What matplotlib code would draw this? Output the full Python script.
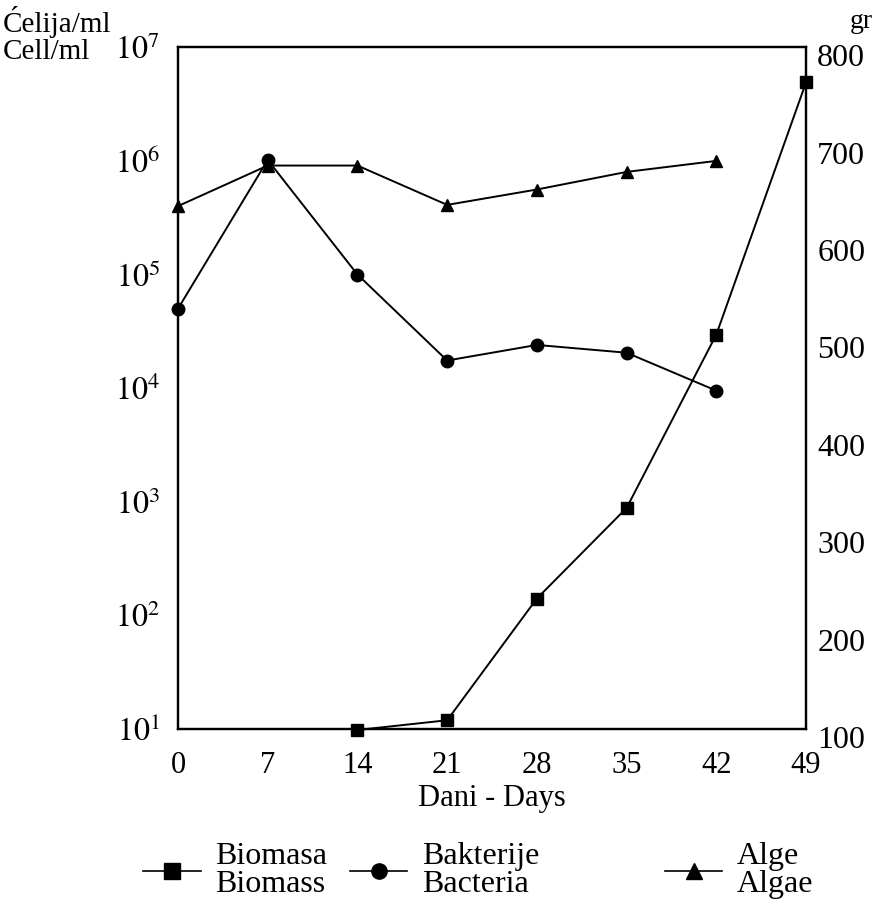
import numpy as np
import matplotlib
matplotlib.use('Agg')
import matplotlib.pyplot as plt
import matplotlib.transforms as mtransforms
from matplotlib.lines import Line2D

plt.rcParams['font.family'] = 'Liberation Serif'
plt.rcParams['mathtext.fontset'] = 'stix'

# data
days = [0, 7, 14, 21, 28, 35, 42, 49]
bact_days = [0, 7, 14, 21, 28, 35, 42]
bacteria = [5.0e4, 1.02e6, 1.0e5, 1.75e4, 2.4e4, 2.05e4, 9.5e3]
alg_days = [0, 7, 14, 21, 28, 35, 42]
algae = [4.0e5, 9.1e5, 9.1e5, 4.1e5, 5.6e5, 8.0e5, 1.0e6]
bio_days = [14, 21, 28, 35, 42, 49]
biomass = [99, 109, 234, 327, 505, 764]

log_ticks = [1e1, 1e2, 1e3, 1e4, 1e5, 1e6, 1e7]
log_labels = ['$10^{%d}$' % i for i in range(1, 8)]
gr_ticks = [100, 200, 300, 400, 500, 600, 700, 800]

fig = plt.figure(figsize=(8.79, 9.09), dpi=100)
ax = fig.add_axes([0.2025, 0.198, 0.7145, 0.750])
ax2 = ax.twinx()

ax.plot(bact_days, bacteria, color='black', lw=1.4, marker='o', ms=9, clip_on=False)
ax.plot(alg_days, algae, color='black', lw=1.4, marker='^', ms=8, clip_on=False)
ax2.plot(bio_days, biomass, color='black', lw=1.4, marker='s', ms=9, clip_on=False)

ax.set_yscale('log')
ax.set_ylim(1e1, 1e7)
ax.set_yticks(log_ticks)
ax.set_yticklabels(log_labels, fontsize=23)
ax.minorticks_off()
ax.set_xlim(0, 49)
ax.set_xticks(days)
ax.set_xticklabels([str(d) for d in days], fontsize=22)
ax.set_xlabel('Dani - Days', fontsize=22, labelpad=3)

ax2.set_ylim(100, 800)
ax2.set_yticks(gr_ticks)
ax2.set_yticklabels([str(g) for g in gr_ticks], fontsize=23)

ax.tick_params(axis='x', length=0, pad=16)
ax.tick_params(axis='y', length=0, pad=13)
ax2.tick_params(axis='y', length=0, pad=8)
# right-hand numbers sit a little below their levels in the original
shift = mtransforms.ScaledTranslation(0, -0.08, fig.dpi_scale_trans)
for lab in ax2.get_yticklabels():
    lab.set_transform(lab.get_transform() + shift)

for a in (ax, ax2):
    for s in a.spines.values():
        s.set_linewidth(1.6)

fig.text(0.003, 0.976, 'Ćelija/ml', fontsize=21, va='center')
fig.text(0.003, 0.943, 'Cell/ml', fontsize=21, va='center')
fig.text(0.993, 0.976, 'gr', fontsize=20, ha='right', va='center')

entries = [
    ('s', 11, 'Biomasa\nBiomass', 0.1627),
    ('o', 11, 'Bakterije\nBacteria', 0.398),
    ('^', 11, 'Alge\nAlgae', 0.7565),
]
for mk, size, text, x0 in entries:
    h = Line2D([], [], color='black', lw=1.2, marker=mk, ms=size)
    leg = fig.legend([h], [text], loc='center left', bbox_to_anchor=(x0, 0.042),
                     frameon=False, fontsize=23, handlelength=1.8,
                     handletextpad=0.45, borderpad=0, borderaxespad=0)
    for t in leg.get_texts():
        t.set_linespacing(0.95)

fig.savefig('out.png', dpi=100)
